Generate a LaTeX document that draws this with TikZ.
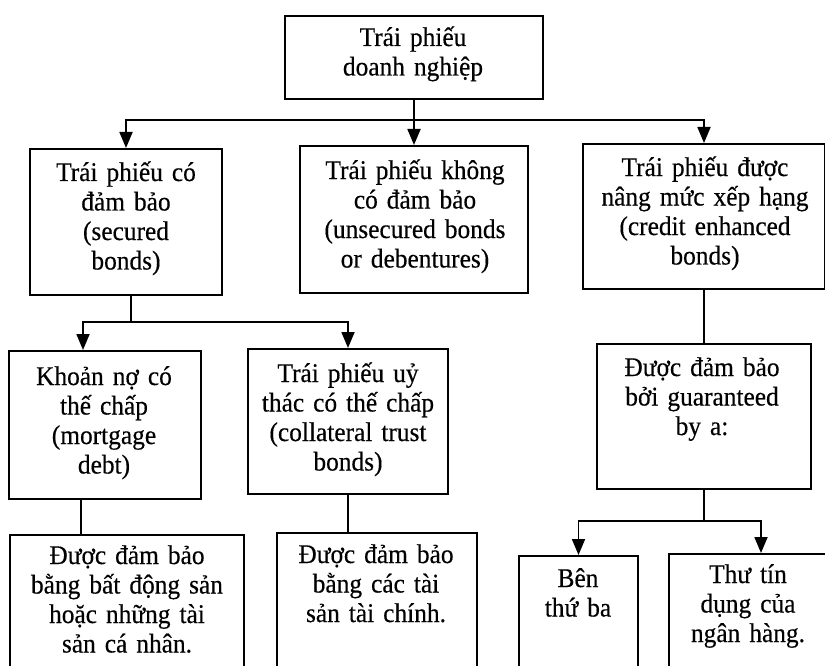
\documentclass[tikz,border=0pt]{standalone}
\usepackage{fontspec}
\setmainfont{Liberation Serif}[FakeStretch=0.94, FakeBold=0.4]
\usetikzlibrary{arrows.meta}

\begin{document}
\begin{tikzpicture}[x=1pt, y=1pt,
  frame/.style={draw, line width=2pt, inner sep=0pt, anchor=north west},
  txt/.style={anchor=base, align=center, inner sep=0pt,
    font=\fontsize{27}{29.5}\selectfont},
  conn/.style={line width=1.8pt},
  arr/.style={conn, -{Triangle[width=13pt,length=16pt]}}]

\useasboundingbox (0,0) rectangle (825,-666);
\clip (0,0) rectangle (825,-666);

% ---- frames (boxes) ----
\node[frame, minimum width=258pt, minimum height=83pt]  (top) at (284,-15)  {};
\node[frame, minimum width=192pt, minimum height=146pt] (L1)  at (29,-148)  {};
\node[frame, minimum width=228pt, minimum height=147pt] (M1)  at (299,-145) {};
\node[frame, minimum width=242pt, minimum height=145pt] (R1)  at (582,-143) {};
\node[frame, minimum width=192pt, minimum height=148pt] (K1)  at (8,-350)   {};
\node[frame, minimum width=200pt, minimum height=145pt] (K2)  at (247,-348) {};
\node[frame, minimum width=214pt, minimum height=145pt] (G)   at (596,-343) {};
\node[frame, minimum width=234pt, minimum height=160pt] (D1)  at (9,-534)   {};
\node[frame, minimum width=200pt, minimum height=160pt] (D2)  at (276,-532) {};
\node[frame, minimum width=119pt, minimum height=160pt] (B1)  at (518,-555) {};
\node[frame, minimum width=184pt, minimum height=160pt] (B2)  at (668,-553) {};

% ---- texts ----
\node[txt, text width=250pt] (topt) at (413,-46)  {Trái phiếu\\doanh nghiệp};
\node[txt, text width=190pt] (L1t)  at (126,-181) {Trái phiếu có\\đảm bảo\\(secured\\bonds)};
\node[txt, text width=226pt] (M1t)  at (415,-179) {Trái phiếu không\\có đảm bảo\\(unsecured bonds\\or debentures)};
\node[txt, text width=240pt] (R1t)  at (705,-176) {Trái phiếu được\\nâng mức xếp hạng\\(credit enhanced\\bonds)};
\node[txt, text width=190pt] (K1t)  at (104,-385) {Khoản nợ có\\thế chấp\\(mortgage\\debt)};
\node[txt, text width=200pt] (K2t)  at (348,-382) {Trái phiếu uỷ\\thác có thế chấp\\(collateral trust\\bonds)};
\node[txt, text width=212pt] (Gt)   at (702,-376) {Được đảm bảo\\bởi guaranteed\\by a:};
\node[txt, text width=232pt] (D1t)  at (127,-564) {Được đảm bảo\\bằng bất động sản\\hoặc những tài\\sản cá nhân.};
\node[txt, text width=198pt] (D2t)  at (376,-563) {Được đảm bảo\\bằng các tài\\sản tài chính.};
\node[txt, text width=117pt] (B1t)  at (578,-587) {Bên\\thứ ba};
\node[txt, text width=140pt] (B2t)  at (748,-583) {Thư tín\\dụng của\\ngân hàng.};

% ---- connectors ----
\draw[conn] (top.south) -- ++(0,-20) coordinate (j0);
\draw[arr] (j0) -| (L1.north);
\draw[arr] (j0) -- (M1.north);
\draw[arr] (j0) -| (R1.north);

\draw[conn] ([xshift=5pt]L1.south) -- ++(0,-26) coordinate (j1);
\draw[arr] (j1) -| ([xshift=-22pt]K1.north);
\draw[arr] (j1) -| (K2.north);

\draw[conn] (R1.south) -- (G.north);
\draw[conn] (G.south) -- ++(0,-31) coordinate (j2);
\draw[arr] (j2) -| (B1.north);
\draw[arr] (j2) -| (B2.north);

\draw[conn] ([xshift=-24pt]K1.south) -- ([xshift=-24pt]K1.south |- D1.north);
\draw[conn] (K2.south) -- (K2.south |- D2.north);
\end{tikzpicture}
\end{document}
